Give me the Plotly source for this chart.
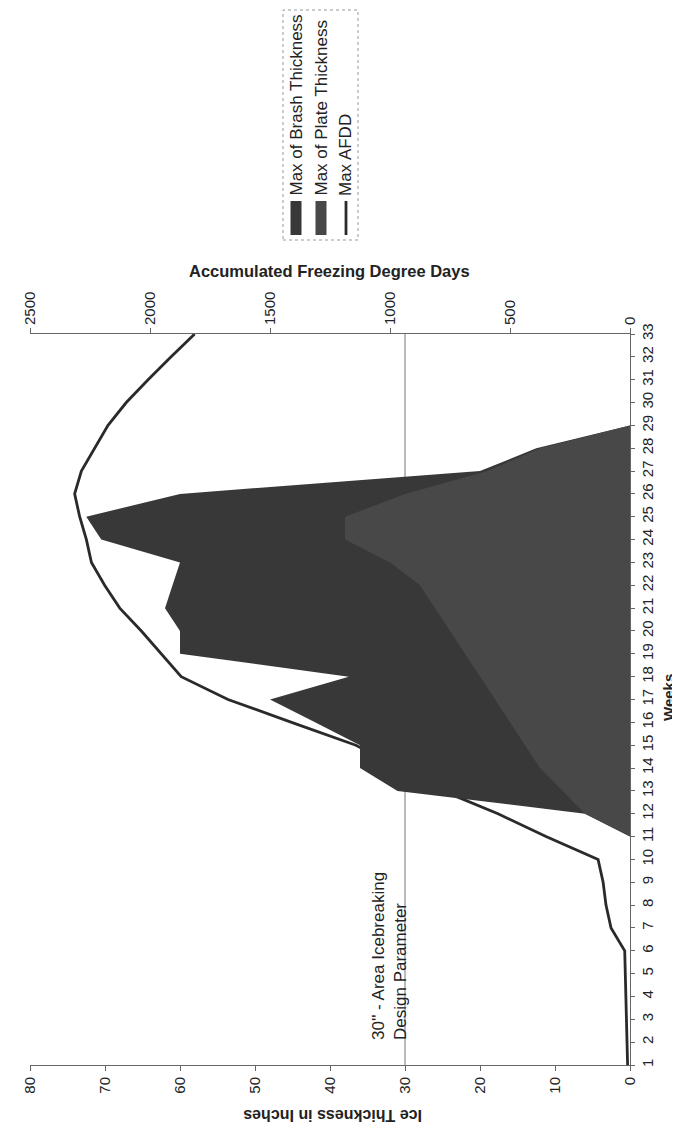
import plotly.graph_objects as go

# ---------------- data ----------------
weeks = list(range(1, 34))
brash_thickness = [0, 0, 0, 0, 0, 0, 0, 0, 0, 0,
                   0, 6, 31, 36, 36, 42, 48, 37.5, 60, 60, 62, 61, 60, 70.5, 72.5, 60, 20, 12.5, 0,
                   0, 0, 0, 0]
plate_thickness = [0, 0, 0, 0, 0, 0, 0, 0, 0, 0,
                   0, 6, 9, 12, 14, 16, 18, 20, 22, 24, 26, 28, 32, 38, 38, 30, 19, 12, 0,
                   0, 0, 0, 0]
max_afdd = [10, 12, 14, 16, 18, 22, 79, 100, 112, 133,
            350, 550, 780, 960, 1142, 1410, 1675, 1870, 1953, 2036,
            2126, 2189, 2244, 2265, 2293, 2314, 2286, 2231, 2175, 2099,
            2008, 1912, 1814]
ice_ticks = [0, 10, 20, 30, 40, 50, 60, 70, 80]
afdd_ticks = [0, 500, 1000, 1500, 2000, 2500]
design_thickness = 30

series_names = ["Max of Brash Thickness", "Max of Plate Thickness", "Max AFDD"]

# ---------------- styling ----------------
BRASH_COLOR = "#383838"
PLATE_COLOR = "#484848"
LINE_COLOR = "#2a2a2a"
AXIS_COLOR = "#666666"
FONT = "Liberation Sans, Arial, sans-serif"

W, H = 680, 1122
L, R, T, B = 22, 622, 326, 1057


def px(x):
    return (x - L) / (R - L)


def py(y):
    return (B - y) / (B - T)


fig = go.Figure()

# AFDD line on the base x-axis (drawn underneath the areas)
fig.add_trace(go.Scatter(
    x=max_afdd, y=weeks, mode="lines",
    line=dict(width=2.8, color=LINE_COLOR),
    name=series_names[2], xaxis="x", yaxis="y"))
fig.add_trace(go.Scatter(
    x=brash_thickness, y=weeks, mode="lines", fill="tozerox",
    fillcolor=BRASH_COLOR, line=dict(width=0, color=BRASH_COLOR),
    name=series_names[0], xaxis="x2", yaxis="y"))
fig.add_trace(go.Scatter(
    x=plate_thickness, y=weeks, mode="lines", fill="tozerox",
    fillcolor=PLATE_COLOR, line=dict(width=0, color=PLATE_COLOR),
    name=series_names[1], xaxis="x2", yaxis="y"))

tickfont = dict(family=FONT, size=15, color="#222")

fig.update_layout(
    width=W, height=H,
    margin=dict(l=L, r=W - R, t=T, b=H - B, pad=0),
    plot_bgcolor="white", paper_bgcolor="white",
    showlegend=False,
    font=dict(family=FONT, size=15, color="#222"),
    xaxis=dict(range=[2500, 0], tickvals=afdd_ticks, tickangle=-90,
               side="top", anchor="y",
               ticks="outside", ticklen=5, tickcolor=AXIS_COLOR,
               showline=True, linecolor=AXIS_COLOR, linewidth=1,
               showgrid=False, zeroline=False, tickfont=tickfont),
    xaxis2=dict(range=[80, 0], tickvals=ice_ticks, tickangle=-90,
                overlaying="x", side="bottom", anchor="y",
                ticks="outside", ticklen=5, tickcolor=AXIS_COLOR,
                showline=True, linecolor=AXIS_COLOR, linewidth=1,
                showgrid=False, zeroline=False, tickfont=tickfont),
    yaxis=dict(range=[1, 33], tickvals=weeks, tickangle=-90, side="right",
               ticks="outside", ticklen=4, tickcolor=AXIS_COLOR,
               showline=True, linecolor=AXIS_COLOR, linewidth=1,
               showgrid=False, zeroline=False, tickfont=tickfont),
)

# design-parameter reference line
fig.add_shape(type="line", xref="x2", yref="paper",
              x0=design_thickness, x1=design_thickness, y0=0, y1=1,
              line=dict(color="#777777", width=1), layer="below")

annotations = [
    dict(text="30'' - Area Icebreaking<br>Design Parameter", xref="paper", yref="paper",
         x=px(381), y=py(1034), xanchor="center", yanchor="bottom", textangle=-90,
         align="left", showarrow=False, font=dict(family=FONT, size=17, color="#222")),
    dict(text="<b>Accumulated Freezing Degree Days</b>", xref="paper", yref="paper",
         x=px(321), y=py(263), xanchor="center", yanchor="middle", showarrow=False,
         font=dict(family=FONT, size=16.5, color="#222")),
    dict(text="<b>Ice Thickness in Inches</b>", xref="paper", yref="paper",
         x=px(325), y=py(1108), xanchor="center", yanchor="middle", textangle=180,
         showarrow=False, font=dict(family=FONT, size=16, color="#222")),
    dict(text="<b>Weeks</b>", xref="paper", yref="paper",
         x=px(660), y=py(690), xanchor="center", yanchor="middle", textangle=-90,
         showarrow=False, font=dict(family=FONT, size=15, color="#222")),
]

# custom rotated legend
fig.add_shape(type="rect", xref="paper", yref="paper",
              x0=px(275), x1=px(350), y0=py(232), y1=py(2),
              line=dict(color="#999999", width=1, dash="dot"), fillcolor="white")
legend_x = [288, 313, 338]
for i, name in enumerate(series_names):
    cx = legend_x[i]
    if i < 2:
        fig.add_shape(type="rect", xref="paper", yref="paper",
                      x0=px(cx - 5.5), x1=px(cx + 5.5), y0=py(227), y1=py(193),
                      line=dict(width=0), fillcolor=[BRASH_COLOR, PLATE_COLOR][i])
    else:
        fig.add_shape(type="line", xref="paper", yref="paper",
                      x0=px(cx), x1=px(cx), y0=py(227), y1=py(193),
                      line=dict(width=2.8, color=LINE_COLOR))
    annotations.append(dict(text=name, xref="paper", yref="paper",
                            x=px(cx), y=py(190), xanchor="center", yanchor="bottom",
                            textangle=-90, showarrow=False,
                            font=dict(family=FONT, size=17, color="#222")))

fig.update_layout(annotations=annotations)

fig.write_html("out.html")
